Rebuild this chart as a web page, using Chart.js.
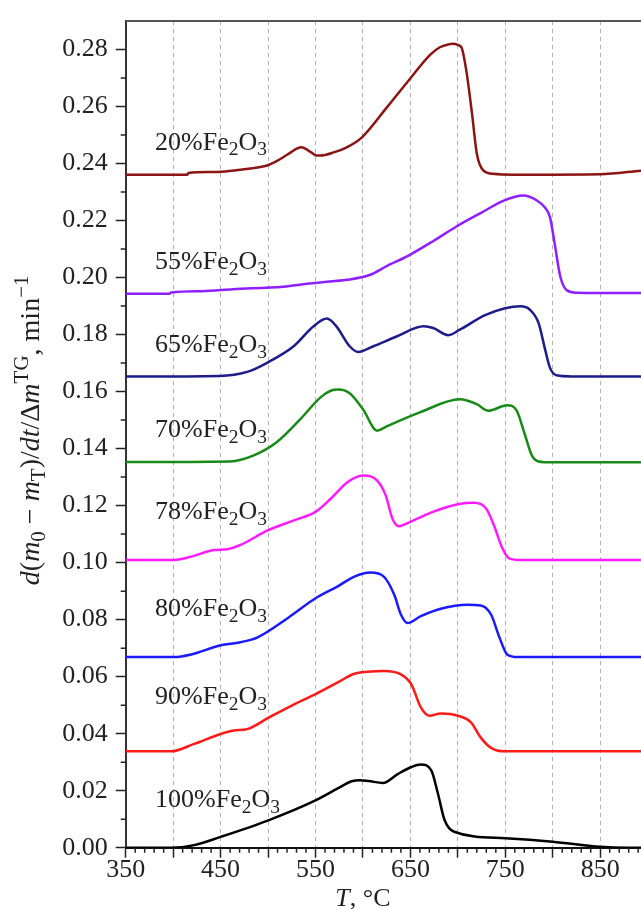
<!DOCTYPE html>
<html>
<head>
<meta charset="utf-8">
<script src="https://cdn.jsdelivr.net/npm/chart.js@4.4.0/dist/chart.umd.min.js"></script>
<style>
  body { margin: 0; background: #fff; overflow: hidden; }
  canvas { display: block; }
</style>
</head>
<body>
<canvas id="dtg" width="641" height="909"></canvas>
<script>
// DATA - temperature (°C) and d(m0-mT)/dt/ΔmTG (min^-1)
const t20 = [350, 415, 416, 440, 477, 499, 510, 522, 535, 545, 551, 555, 570, 583, 599, 625, 649, 671, 681, 690, 695, 700, 704, 709, 715, 720, 727, 737, 760, 800, 850, 893];
const v20 = [0.2361, 0.2361, 0.2367, 0.2370, 0.2381, 0.2393, 0.2410, 0.2435, 0.2457, 0.2440, 0.2428, 0.2428, 0.2440, 0.2457, 0.2492, 0.2596, 0.2695, 0.2782, 0.2808, 0.2818, 0.2820, 0.2816, 0.2806, 0.2724, 0.2573, 0.2434, 0.2375, 0.2364, 0.2361, 0.2361, 0.2362, 0.2375];

const t55 = [350, 396, 398, 430, 463, 516, 541, 555, 583, 607, 625, 649, 675, 699, 725, 749, 769, 783, 792, 797, 802, 808, 815, 825, 850, 893];
const v55 = [0.1943, 0.1943, 0.1948, 0.1952, 0.1959, 0.1968, 0.1978, 0.1983, 0.1992, 0.2009, 0.2040, 0.2079, 0.2130, 0.2180, 0.2228, 0.2271, 0.2288, 0.2271, 0.2245, 0.2213, 0.2120, 0.2003, 0.1955, 0.1947, 0.1946, 0.1946];

const t65 = [350, 449, 478, 499, 527, 548, 562, 572, 586, 595, 611, 636, 664, 674, 690, 702, 730, 766, 776, 785, 792, 797, 804, 820, 893];
const v65 = [0.1653, 0.1655, 0.1669, 0.1701, 0.1759, 0.1829, 0.1856, 0.1829, 0.1759, 0.1739, 0.1759, 0.1794, 0.1829, 0.1823, 0.1798, 0.1817, 0.1870, 0.1899, 0.1887, 0.1841, 0.1747, 0.1684, 0.1657, 0.1653, 0.1653];

const t70 = [350, 460, 485, 509, 534, 555, 566, 574, 586, 600, 615, 625, 660, 702, 720, 732, 752, 762, 771, 778, 785, 800, 893];
const v70 = [0.1353, 0.1355, 0.1376, 0.1422, 0.1503, 0.1579, 0.1603, 0.1607, 0.1594, 0.1538, 0.1463, 0.1478, 0.1527, 0.1573, 0.1556, 0.1533, 0.1552, 0.1533, 0.1445, 0.1376, 0.1355, 0.1352, 0.1352];

const t78 = [350, 398, 419, 443, 457, 471, 499, 528, 550, 566, 584, 600, 615, 624, 631, 638, 651, 675, 700, 717, 730, 738, 747, 754, 767, 893];
const v78 = [0.1009, 0.1009, 0.1021, 0.1044, 0.1047, 0.1062, 0.1112, 0.1149, 0.1178, 0.1224, 0.1283, 0.1306, 0.1288, 0.1236, 0.1155, 0.1128, 0.1145, 0.1180, 0.1205, 0.1210, 0.1189, 0.1131, 0.1050, 0.1015, 0.1009, 0.1009];

const t80 = [350, 401, 419, 450, 471, 489, 521, 550, 573, 591, 608, 622, 633, 640, 647, 661, 682, 710, 724, 735, 744, 752, 763, 893];
const v80 = [0.0669, 0.0669, 0.0678, 0.0710, 0.0721, 0.0738, 0.0806, 0.0875, 0.0916, 0.0951, 0.0965, 0.0951, 0.0887, 0.0818, 0.0788, 0.0812, 0.0838, 0.0852, 0.0850, 0.0818, 0.0736, 0.0678, 0.0669, 0.0669];

const t90 = [350, 398, 422, 450, 464, 478, 501, 528, 550, 573, 591, 605, 622, 640, 651, 661, 670, 682, 700, 714, 724, 735, 749, 893];
const v90 = [0.0338, 0.0338, 0.0364, 0.0399, 0.0411, 0.0416, 0.0457, 0.0504, 0.0539, 0.0579, 0.0610, 0.0617, 0.0620, 0.0608, 0.0573, 0.0492, 0.0463, 0.0471, 0.0463, 0.0439, 0.0387, 0.0350, 0.0338, 0.0338];

const t100 = [350, 398, 422, 450, 501, 550, 573, 588, 597, 606, 621, 637, 651, 661, 672, 679, 686, 696, 750, 800, 850, 879, 893];
const v100 = [0, 0, 0.0009, 0.0038, 0.0097, 0.0166, 0.0207, 0.0233, 0.0237, 0.0234, 0.0227, 0.0259, 0.0283, 0.0292, 0.0271, 0.0190, 0.0097, 0.0056, 0.0033, 0.0021, 0.0003, 0, 0];

const contents = ["20", "55", "65", "70", "78", "80", "90", "100"];
const xTicks = [350, 400, 450, 500, 550, 600, 650, 700, 750, 800, 850];
const yTicks = [0, 0.02, 0.04, 0.06, 0.08, 0.10, 0.12, 0.14, 0.16, 0.18, 0.20, 0.22, 0.24, 0.26, 0.28];

// where the "xx%Fe2O3" labels sit (temperature, value of text baseline)
const labelAt = [[381, 0.2449], [381, 0.2029], [381, 0.1738], [381, 0.1439], [381, 0.1152], [381, 0.0812], [381, 0.0504], [381, 0.0143]];

const colors = ["#8b1414", "#8f1fff", "#1c1c8a", "#178a17", "#ff1aff", "#1a1aff", "#ff1a1a", "#000000"];
const FONT = "'Liberation Serif', 'Times New Roman', serif";
const INK = "#222";

const pairs = (xs, ys) => xs.map((x, i) => ({ x: x, y: ys[i] }));
const series = [[t20, v20], [t55, v55], [t65, v65], [t70, v70], [t78, v78], [t80, v80], [t90, v90], [t100, v100]];

// draw a run of text pieces: '' normal, 'i' italic, 'b' subscript, 'p' superscript
function drawRuns(ctx, runs, x, y, size, center) {
  const fontOf = (st) => (st === "i" ? "italic " : "") + ((st === "b" || st === "p") ? size * 0.75 : size) + "px " + FONT;
  let total = 0;
  runs.forEach(([txt, st]) => { ctx.font = fontOf(st); total += ctx.measureText(txt).width; });
  let cx = center ? x - total / 2 : x;
  ctx.textAlign = "left";
  ctx.textBaseline = "alphabetic";
  runs.forEach(([txt, st]) => {
    ctx.font = fontOf(st);
    const dy = st === "b" ? size * 0.22 : st === "p" ? -size * 0.4 : 0;
    ctx.fillText(txt, cx, y + dy);
    cx += ctx.measureText(txt).width;
  });
}

const extras = {
  id: "extras",
  afterDraw(chart) {
    const { ctx, chartArea, scales } = chart;
    const xs = scales.x, ys = scales.y;
    ctx.save();
    // top frame line
    ctx.strokeStyle = "#555";
    ctx.lineWidth = 2;
    ctx.beginPath();
    ctx.moveTo(chartArea.left, chartArea.top);
    ctx.lineTo(chartArea.right, chartArea.top);
    ctx.stroke();

    // minor ticks
    ctx.strokeStyle = INK;
    ctx.lineWidth = 1.5;
    ctx.beginPath();
    for (let t = 360; t <= 890; t += 10) {
      if (t % 50 === 0) continue;
      const px = xs.getPixelForValue(t);
      ctx.moveTo(px, chartArea.bottom);
      ctx.lineTo(px, chartArea.bottom + 5);
    }
    for (let k = 1; k <= 27; k += 2) {
      const py = ys.getPixelForValue(k / 100);
      ctx.moveTo(chartArea.left, py);
      ctx.lineTo(chartArea.left - 5, py);
    }
    ctx.stroke();

    ctx.fillStyle = INK;
    // curve labels
    contents.forEach((c, i) => {
      drawRuns(ctx, [[c + "%Fe", ""], ["2", "b"], ["O", ""], ["3", "b"]],
        xs.getPixelForValue(labelAt[i][0]), ys.getPixelForValue(labelAt[i][1]), 26, false);
    });

    // x axis title
    drawRuns(ctx, [["T", "i"], [", °C", ""]], xs.getPixelForValue(600), 906, 26, true);

    // y axis title
    ctx.translate(39, (chartArea.top + chartArea.bottom) / 2 - 4);
    ctx.rotate(-Math.PI / 2);
    drawRuns(ctx, [["d", "i"], ["(", ""], ["m", "i"], ["0", "b"], [" \u2212 ", ""], ["m", "i"], ["T", "b"],
      [")/", ""], ["dt", "i"], ["/\u0394", ""], ["m", "i"], ["TG", "p"], [", min", ""], ["\u22121", "p"]], 0, 0, 28, true);
    ctx.restore();
  }
};

const ctx = document.getElementById("dtg").getContext("2d");
new Chart(ctx, {
  type: "line",
  data: {
    datasets: series.map(([xs, ys], i) => ({
      label: contents[i] + "%Fe2O3",
      data: pairs(xs, ys),
      borderColor: colors[i],
      borderWidth: 2.5,
      pointRadius: 0,
      fill: false,
      cubicInterpolationMode: "monotone",
    })),
  },
  options: {
    responsive: false,
    animation: false,
    layout: { padding: { top: 14.7, right: 0, left: 0, bottom: 0 } },
    plugins: { legend: { display: false }, tooltip: { enabled: false } },
    scales: {
      x: {
        type: "linear",
        min: 350,
        max: 893,
        afterBuildTicks: (scale) => { scale.ticks = xTicks.map(v => ({ value: v })); },
        afterFit: (scale) => { scale.height = 909 - 847.7; },
        ticks: {
          autoSkip: false,
          maxRotation: 0,
          padding: -3,
          color: INK,
          font: { family: FONT, size: 26 },
          callback: (v) => ((v - 350) % 100 === 0 ? String(v) : ""),
        },
        grid: {
          color: "#b0b0b0",
          lineWidth: 1,
          tickColor: INK,
          tickWidth: 1.5,
          tickLength: 10,
          tickBorderDash: [],
        },
        border: { color: "#111", width: 2, dash: [4, 4] },
      },
      y: {
        min: 0,
        max: 0.29,
        afterBuildTicks: (scale) => { scale.ticks = yTicks.map(v => ({ value: v })); },
        afterFit: (scale) => { scale.width = 125.7; },
        ticks: {
          padding: 8,
          color: INK,
          font: { family: FONT, size: 26, lineHeight: 1 },
          callback: (v) => v.toFixed(2),
        },
        grid: {
          drawOnChartArea: false,
          tickColor: INK,
          tickWidth: 1.5,
          tickLength: 10,
        },
        border: { color: "#333", width: 2 },
      },
    },
  },
  plugins: [extras],
});
</script>
</body>
</html>
